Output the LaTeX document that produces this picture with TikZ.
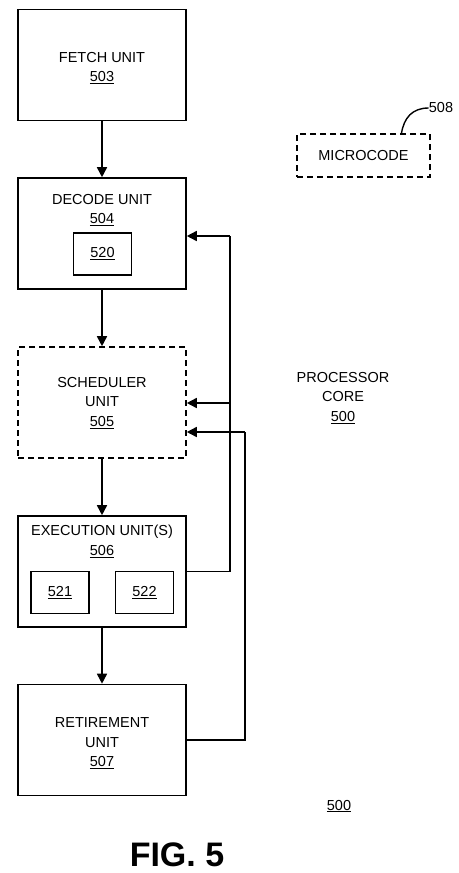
\documentclass[tikz,border=0pt]{standalone}
\usepackage{fontspec}
\setmainfont{Liberation Sans}
\usetikzlibrary{arrows.meta}
\begin{document}
\begin{tikzpicture}[x=1pt,y=1pt,
  unitbox/.style={draw,line width=1.6pt,minimum width=168pt,minimum height=111pt,inner sep=0pt},
  dashbox/.style={unitbox,dash pattern=on 6pt off 4pt},
  smallbox/.style={draw,line width=1.6pt,minimum width=58pt,minimum height=42pt,inner sep=0pt},
  lbl/.style={align=center,inner sep=0pt,font=\fontsize{14.5}{19.5}\selectfont},
  flow/.style={line width=1.6pt,-{Triangle[length=10pt,width=10pt]}},
  wire/.style={line width=1.6pt}]
\useasboundingbox (0,0) rectangle (458,-873);
% pipeline units
\node[unitbox] (fetch) at (102,-65) {};
\node[unitbox] (decode) at (102,-233.5) {};
\node[dashbox] (sched) at (102,-402.5) {};
\node[unitbox] (exec) at (102,-571.5) {};
\node[unitbox] (retire) at (102,-740) {};
\node[lbl] at (102,-68) {FETCH UNIT\\\underline{503}};
\node[lbl] at (102,-210) {DECODE UNIT\\\underline{504}};
\node[lbl] at (102,-403) {SCHEDULER\\UNIT\\\underline{505}};
\node[lbl] at (102,-541.5) {EXECUTION UNIT(S)\\\underline{506}};
\node[lbl] at (102,-743.5) {RETIREMENT\\UNIT\\\underline{507}};
% inner blocks
\node[smallbox,lbl] (b520) at (102.5,-254) {\underline{520}};
\node[smallbox,lbl] (b521) at (60,-592.5) {\underline{521}};
\node[smallbox,lbl] (b522) at (144.5,-592.5) {\underline{522}};
% microcode
\node[dashbox,minimum width=133pt,minimum height=43pt,lbl] (ucode) at (363.5,-155.5) {MICROCODE};
\node[lbl] (n508) at (441,-108) {508};
\draw[wire,line width=1.4pt] ([xshift=38pt]ucode.north) .. controls (404,-118) and (412,-108) .. (n508.west);
% text labels
\node[lbl] (core) at (343,-398) {PROCESSOR\\CORE\\\underline{500}};
\node[lbl] (n500) at (339,-806) {\underline{500}};
\node[inner sep=0pt,font=\fontsize{34}{40}\selectfont\bfseries] (fig) at (177,-855) {FIG. 5};
% forward path
\draw[flow] (fetch) -- (decode);
\draw[flow] (decode) -- (sched);
\draw[flow] (sched) -- (exec);
\draw[flow] (exec) -- (retire);
% feedback paths
\coordinate (busA) at (230,-236);
\coordinate (busB) at (245,-432);
\coordinate (tapA) at (230,-403);
\draw[wire] (exec.east) -| (busA);
\draw[flow] (busA) -- (busA -| decode.east);
\draw[flow] (tapA) -- (tapA -| sched.east);
\draw[wire] (retire.east) -| (busB);
\draw[flow] (busB) -- (busB -| sched.east);
\end{tikzpicture}
\end{document}
